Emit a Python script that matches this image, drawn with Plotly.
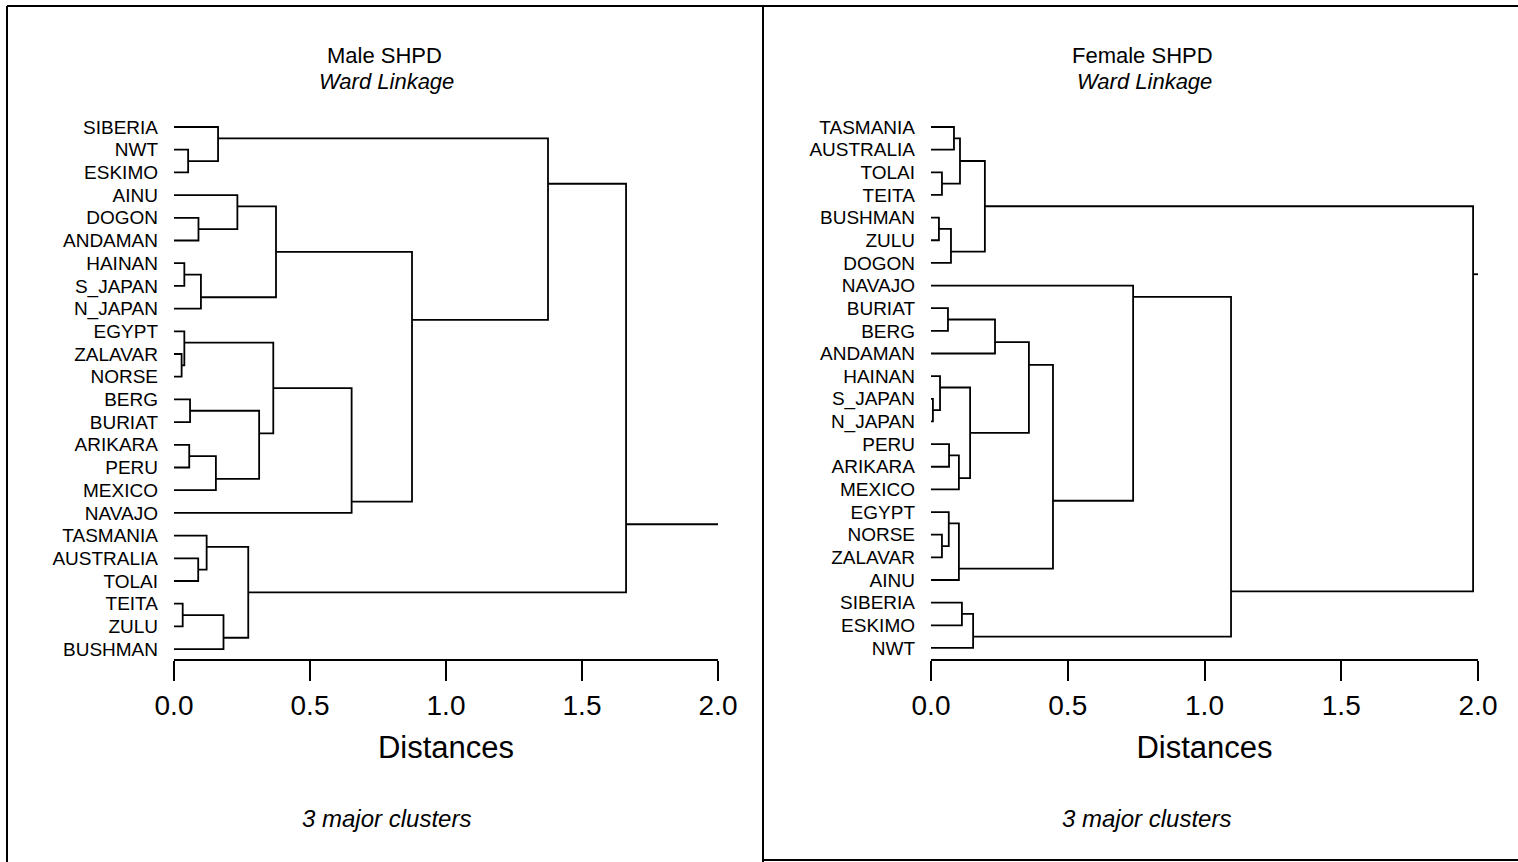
import plotly.graph_objects as go

W, H = 1518, 862

# ---------------- data ----------------
male_leaves = ["SIBERIA", "NWT", "ESKIMO", "AINU", "DOGON", "ANDAMAN", "HAINAN",
               "S_JAPAN", "N_JAPAN", "EGYPT", "ZALAVAR", "NORSE", "BERG", "BURIAT",
               "ARIKARA", "PERU", "MEXICO", "NAVAJO", "TASMANIA", "AUSTRALIA",
               "TOLAI", "TEITA", "ZULU", "BUSHMAN"]
# merges: node ids 0..23 are leaves, 24+k is the k-th merge
male_left = [1, 0, 4, 3, 6, 28, 27, 10, 9, 12, 14, 34, 33, 32, 37, 30, 25, 19, 18, 21, 43, 42, 40]
male_right = [2, 24, 5, 26, 7, 8, 29, 11, 31, 13, 15, 16, 35, 36, 17, 38, 39, 20, 41, 22, 23, 44, 45]
male_height = [0.052, 0.162, 0.090, 0.233, 0.038, 0.099, 0.375, 0.028, 0.038, 0.059,
               0.056, 0.154, 0.313, 0.365, 0.653, 0.875, 1.375, 0.089, 0.120, 0.032,
               0.182, 0.273, 1.662]

female_leaves = ["TASMANIA", "AUSTRALIA", "TOLAI", "TEITA", "BUSHMAN", "ZULU", "DOGON",
                 "NAVAJO", "BURIAT", "BERG", "ANDAMAN", "HAINAN", "S_JAPAN", "N_JAPAN",
                 "PERU", "ARIKARA", "MEXICO", "EGYPT", "NORSE", "ZALAVAR", "AINU",
                 "SIBERIA", "ESKIMO", "NWT"]
female_left = [0, 2, 24, 4, 27, 26, 8, 30, 12, 11, 14, 34, 33, 31, 18, 17, 39, 37, 7, 21, 43, 42, 29]
female_right = [1, 3, 25, 5, 6, 28, 9, 10, 13, 32, 15, 16, 35, 36, 19, 38, 20, 40, 41, 22, 23, 44, 45]
female_height = [0.084, 0.040, 0.106, 0.029, 0.073, 0.197, 0.062, 0.234, 0.007, 0.033,
                 0.066, 0.102, 0.143, 0.358, 0.040, 0.065, 0.102, 0.446, 0.739, 0.113,
                 0.154, 1.097, 1.982]

tick_vals = [0.0, 0.5, 1.0, 1.5, 2.0]
tick_text = ["0.0", "0.5", "1.0", "1.5", "2.0"]
stem_end = 2.0

FONT = "Liberation Sans, Arial, Helvetica, sans-serif"


def dendro_paths(n, left, right, height, stem_to):
    px = {i: 0.0 for i in range(n)}
    py = {i: float(i) for i in range(n)}
    lo = {i: i for i in range(n)}
    hi = {i: i for i in range(n)}
    xs, ys = [], []
    for k, (a, b, h) in enumerate(zip(left, right, height)):
        node = n + k
        xs += [px[a], h, h, px[b], None]
        ys += [py[a], py[a], py[b], py[b], None]
        px[node] = h
        lo[node] = lo[a]
        hi[node] = hi[b]
        py[node] = (hi[a] + lo[b]) / 2.0
    root = n + len(left) - 1
    xs += [px[root], stem_to, None]
    ys += [py[root], py[root], None]
    return xs, ys


fig = go.Figure()

mx, my = dendro_paths(len(male_leaves), male_left, male_right, male_height, stem_end)
fx, fy = dendro_paths(len(female_leaves), female_left, female_right, female_height, stem_end)

fig.add_trace(go.Scatter(x=mx, y=my, mode="lines", xaxis="x", yaxis="y",
                         line=dict(color="black", width=1.8), hoverinfo="skip",
                         showlegend=False))
fig.add_trace(go.Scatter(x=fx, y=fy, mode="lines", xaxis="x2", yaxis="y2",
                         line=dict(color="black", width=1.8), hoverinfo="skip",
                         showlegend=False))

axis_y_px = 660


def xaxis_cfg(x0, x1):
    return dict(domain=[x0 / W, x1 / W], range=[0, 2], anchor="free",
                position=1 - axis_y_px / H, showline=True, linecolor="black",
                linewidth=2, ticks="outside", ticklen=20, tickwidth=2,
                tickcolor="black", tickvals=tick_vals, ticktext=tick_text,
                tickfont=dict(family=FONT, size=28, color="black"),
                showgrid=False, zeroline=False, fixedrange=True, automargin=False,
                title=dict(text="Distances", font=dict(family=FONT, size=31, color="black"),
                           standoff=16))


def yaxis_cfg(leaves, top_px, step, anchor):
    r0 = (0 - top_px) / step
    r1 = (H - top_px) / step
    return dict(domain=[0, 1], range=[r1, r0], anchor=anchor, showline=False,
                showgrid=False, zeroline=False, ticks="", tickvals=list(range(len(leaves))),
                ticktext=leaves, tickfont=dict(family=FONT, size=19, color="black"),
                ticklabelstandoff=15, fixedrange=True, automargin=False)


fig.update_layout(
    width=W, height=H,
    margin=dict(l=0, r=0, t=0, b=0, pad=0, autoexpand=False),
    paper_bgcolor="white", plot_bgcolor="rgba(0,0,0,0)",
    xaxis=xaxis_cfg(174, 718),
    xaxis2=xaxis_cfg(931, 1478),
    yaxis=yaxis_cfg(male_leaves, 127, 22.7, "x"),
    yaxis2=yaxis_cfg(female_leaves, 127, 22.65, "x2"),
)

# titles and notes
ann = []
for cx, title in [(384, "Male SHPD"), (1142, "Female SHPD")]:
    ann.append(dict(x=cx / W, y=1 - 56 / H, xref="paper", yref="paper", text=title,
                    showarrow=False, font=dict(family=FONT, size=22, color="black"),
                    xanchor="center", yanchor="middle"))
    ann.append(dict(x=(cx + 2) / W, y=1 - 82 / H, xref="paper", yref="paper",
                    text="<i>Ward Linkage</i>", showarrow=False,
                    font=dict(family=FONT, size=22, color="black"),
                    xanchor="center", yanchor="middle"))
for cx in (386, 1146):
    ann.append(dict(x=cx / W, y=1 - 818 / H, xref="paper", yref="paper",
                    text="<i>3 major clusters</i>", showarrow=False,
                    font=dict(family=FONT, size=24, color="black"),
                    xanchor="center", yanchor="middle"))
fig.update_layout(annotations=ann)


# frame lines
def pline(x0, y0, x1, y1, w=2):
    return dict(type="line", xref="paper", yref="paper", x0=x0 / W, y0=1 - y0 / H,
                x1=x1 / W, y1=1 - y1 / H, line=dict(color="black", width=w))


fig.update_layout(shapes=[
    pline(7, 6, 1518, 6),
    pline(7, 6, 7, 862),
    pline(763, 6, 763, 862),
    pline(763, 860, 1518, 860),
])

fig.write_html("out.html")
